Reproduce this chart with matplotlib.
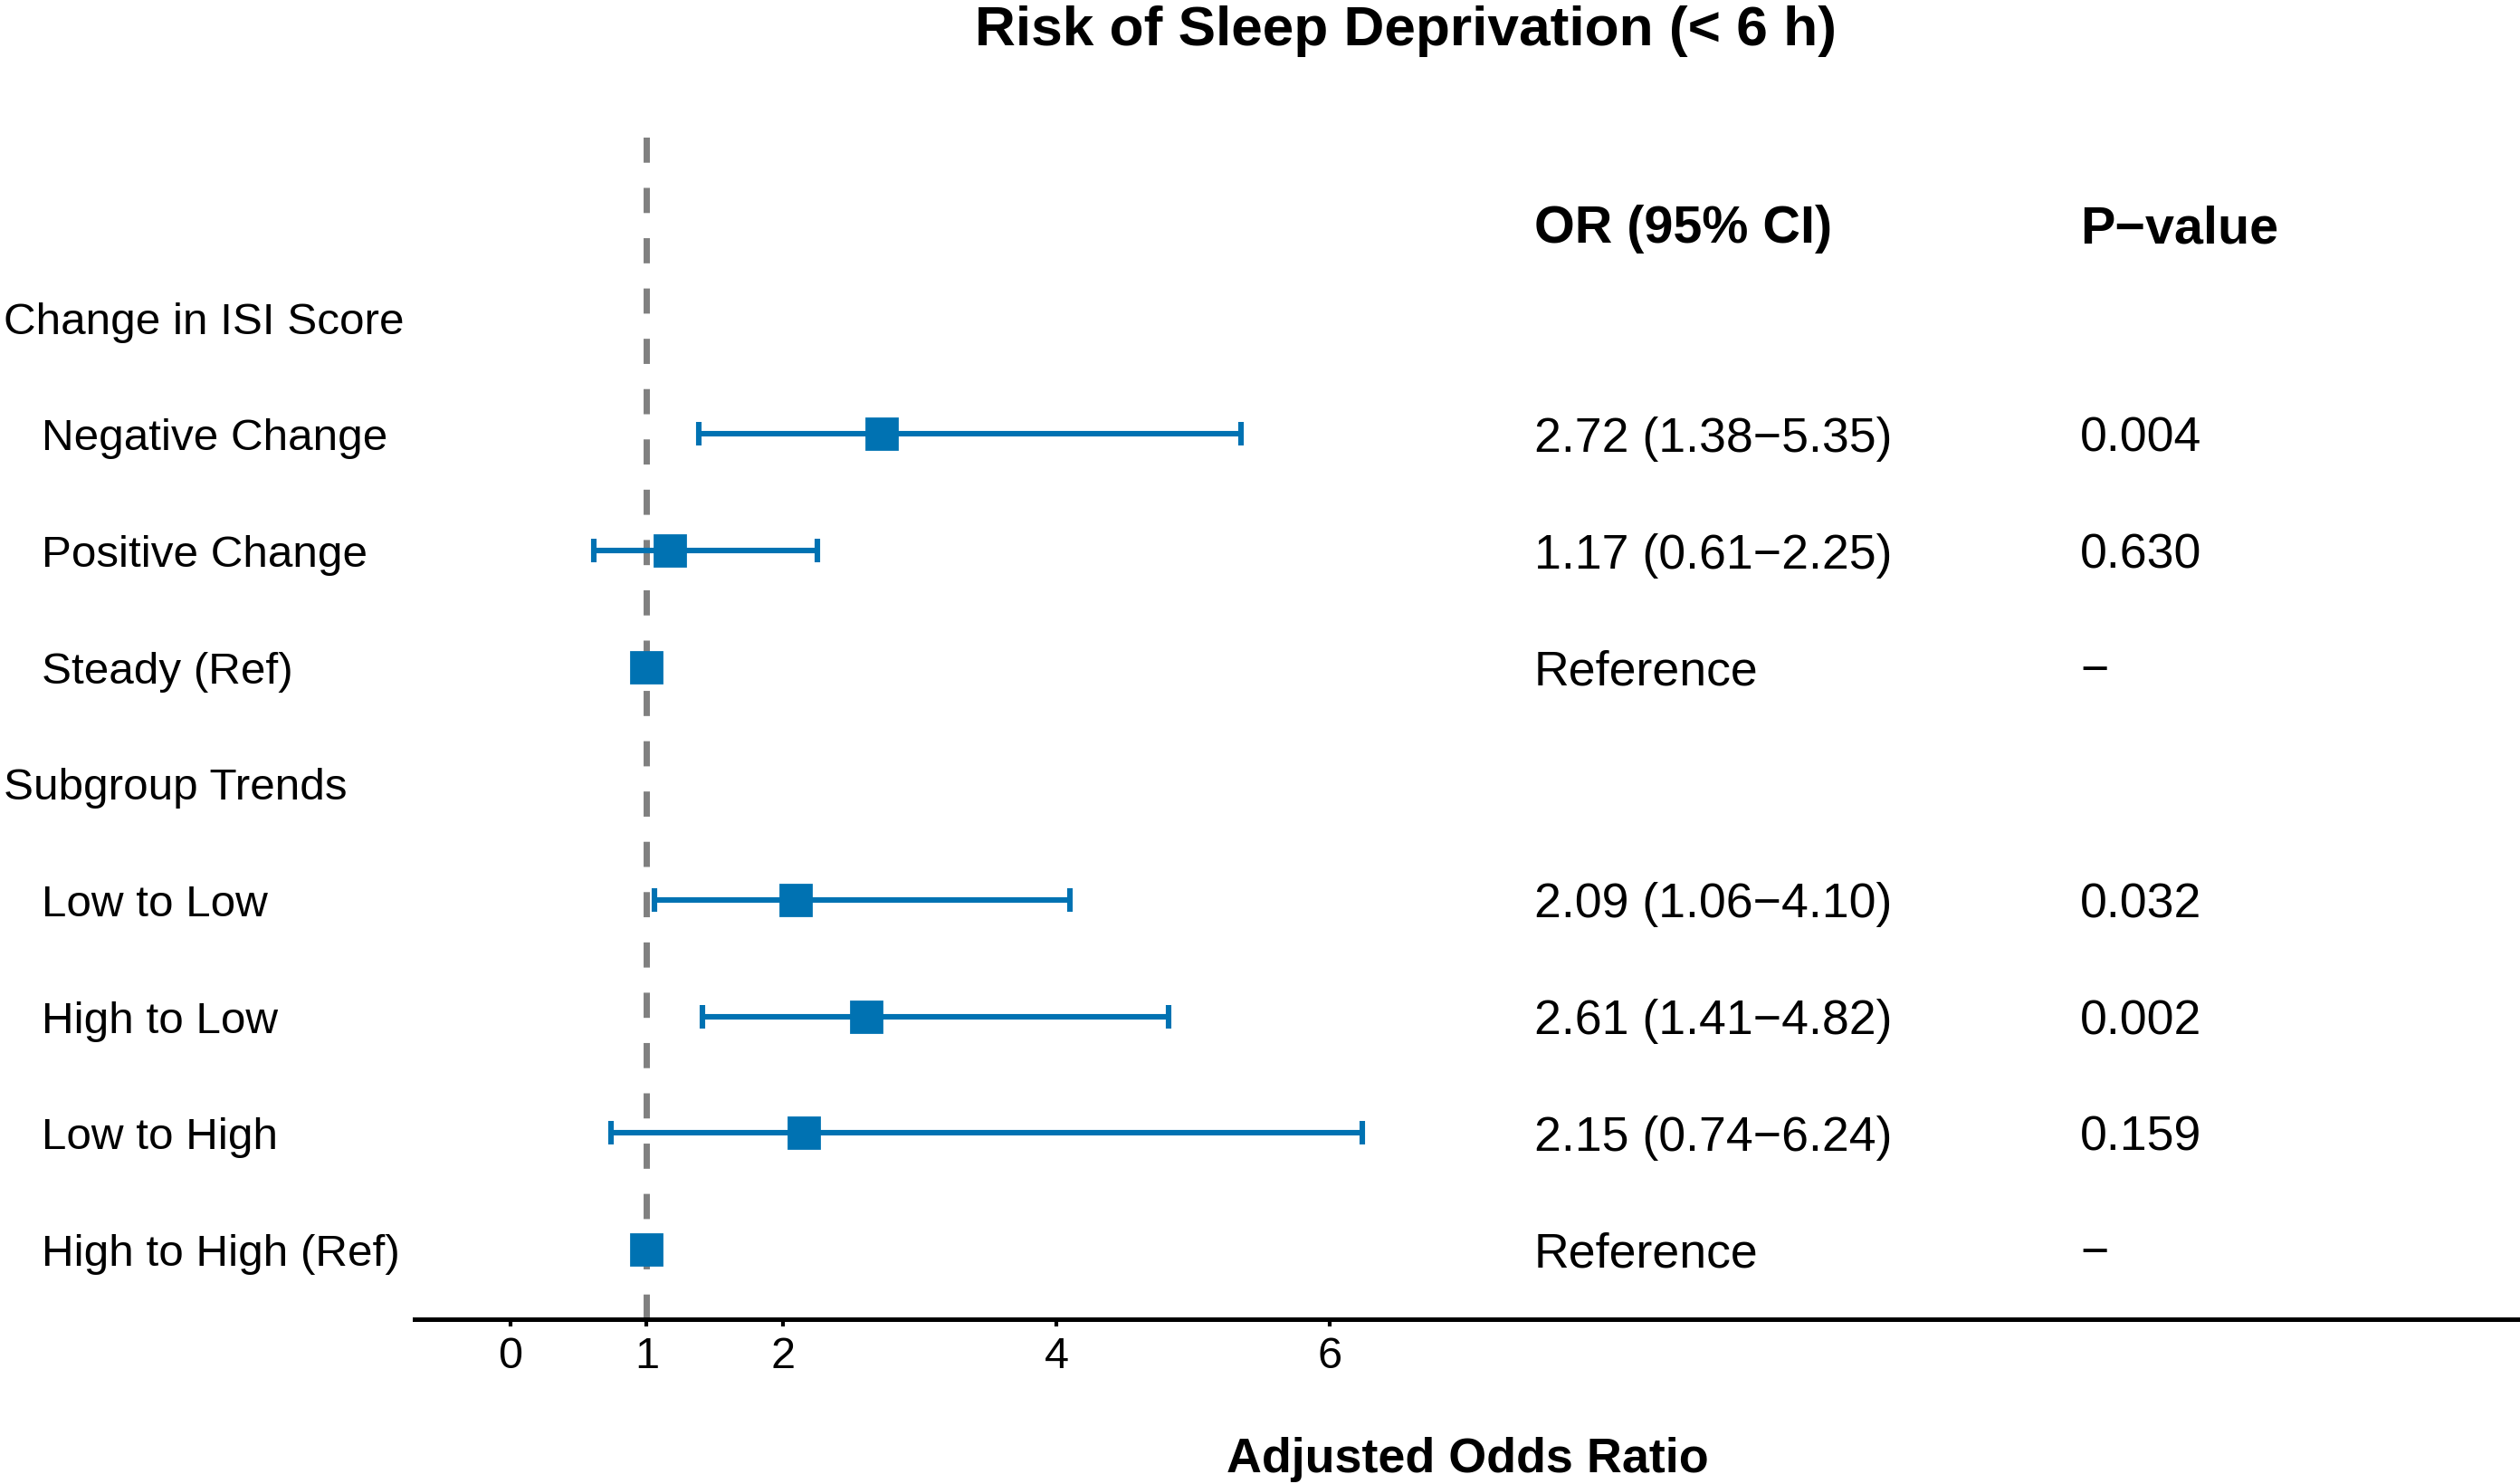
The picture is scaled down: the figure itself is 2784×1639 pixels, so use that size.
import matplotlib
matplotlib.use("Agg")
import matplotlib.pyplot as plt
import numpy as np

plt.rcParams['font.family'] = ['Liberation Sans', 'DejaVu Sans']

# data
row_labels = ["Change in ISI Score", "Negative Change", "Positive Change", "Steady (Ref)",
              "Subgroup Trends", "Low to Low", "High to Low", "Low to High", "High to High (Ref)"]
is_group = [True, False, False, False, True, False, False, False, False]
is_ref = [False, False, False, True, False, False, False, False, True]
odds_ratio = [np.nan, 2.72, 1.17, 1.00, np.nan, 2.09, 2.61, 2.15, 1.00]
ci_low = [np.nan, 1.38, 0.61, np.nan, np.nan, 1.06, 1.41, 0.74, np.nan]
ci_high = [np.nan, 5.35, 2.25, np.nan, np.nan, 4.10, 4.82, 6.24, np.nan]
p_values = ["", "0.004", "0.630", "\u2212", "", "0.032", "0.002", "0.159", "\u2212"]
x_ticks = [0, 1, 2, 4, 6]

blue = "#0072B2"

fig = plt.figure(figsize=(13.92, 8.2), dpi=200)
ax = fig.add_axes([0.1645, 0.111, 0.8355, 0.8])

y = -np.arange(len(row_labels))
dy = -0.035  # small nudge so text sits on the row centre

# reference line
ax.axvline(1, color="#808080", lw=2.5, ls=(0, (4, 4)), zorder=1)

# error bars + squares
for i in range(len(row_labels)):
    if is_group[i]:
        continue
    if not is_ref[i]:
        ax.errorbar(odds_ratio[i], y[i],
                    xerr=[[odds_ratio[i] - ci_low[i]], [ci_high[i] - odds_ratio[i]]],
                    fmt="none", ecolor=blue, elinewidth=2.2, capsize=4.6, capthick=2.2, zorder=2)
    ax.plot(odds_ratio[i], y[i], marker="s", ms=12.5, color=blue, mec=blue, ls="none", zorder=3)

# text columns
for i, lab in enumerate(row_labels):
    if is_group[i]:
        ax.text(-3.71, y[i] + dy, lab, ha="left", va="center", fontsize=17.8, clip_on=False)
        continue
    ax.text(-3.43, y[i] + dy, lab, ha="left", va="center", fontsize=17.8, clip_on=False)
    if is_ref[i]:
        or_txt = "Reference"
    else:
        or_txt = f"{odds_ratio[i]:.2f} ({ci_low[i]:.2f}\u2212{ci_high[i]:.2f})"
    ax.text(7.5, y[i] + dy, or_txt, ha="left", va="center", fontsize=19.3)
    ax.text(11.5, y[i] + dy, p_values[i], ha="left", va="center", fontsize=19.3)

ax.text(7.5, 0.8 + dy, "OR (95% CI)", ha="left", va="center", fontsize=20.7, fontweight="bold")
ax.text(11.5, 0.8 + dy, "P\u2212value", ha="left", va="center", fontsize=20.7, fontweight="bold")

# axes
ax.set_xlim(-0.7, 14.72)
ax.set_ylim(-8.6, 1.6)
ax.set_xticks(x_ticks)
ax.set_xticklabels([str(t) for t in x_ticks])
ax.set_yticks([])
for s in ["left", "right", "top"]:
    ax.spines[s].set_visible(False)
ax.spines["bottom"].set_linewidth(1.8)
ax.tick_params(axis="x", length=3, width=1.5, pad=3.5, labelsize=17.5)

ax.set_xlabel("Adjusted Odds Ratio", fontsize=19.4, fontweight="bold")
ax.xaxis.set_label_coords(0.5, -0.098)

fig.text(0.558, 0.979, "Risk of Sleep Deprivation (< 6 h)", ha="center", va="center",
         fontsize=22.4, fontweight="bold")

fig.savefig("out.png", dpi=200)
